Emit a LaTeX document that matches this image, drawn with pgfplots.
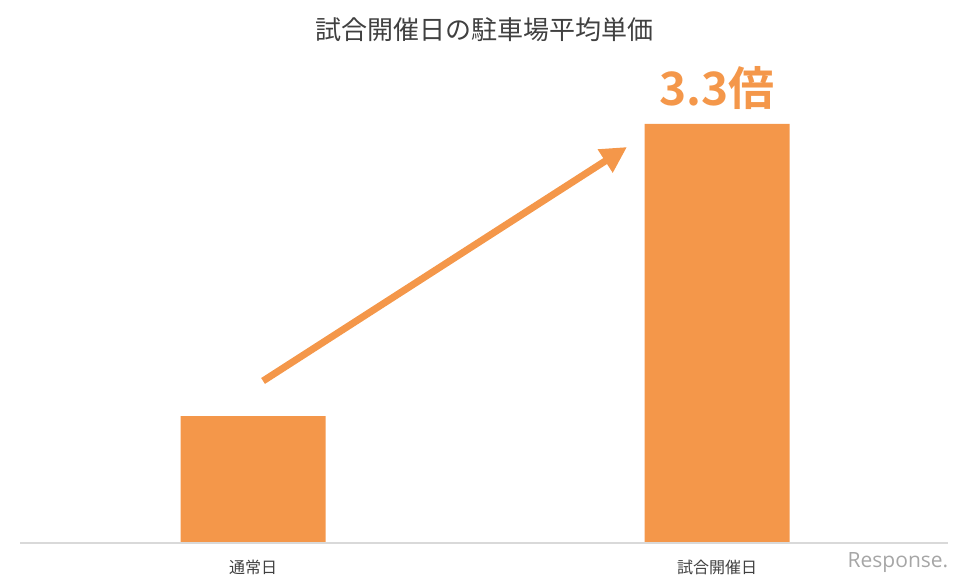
\documentclass[border=0pt]{standalone}
\usepackage{fontspec}
\setmainfont{Noto Sans CJK JP}[BoldFont={Noto Sans CJK JP Bold}]
\newfontfamily\latinfont{Open Sans}
\usepackage{pgfplots}
\pgfplotsset{compat=1.18}
\usetikzlibrary{arrows.meta}
\definecolor{barorange}{HTML}{F4974A}
\definecolor{titlegray}{HTML}{404040}
\begin{document}
\begin{tikzpicture}
\begin{axis}[
  name=main,
  scale only axis,
  width=968pt, height=585pt,
  xmin=-0.5453, xmax=1.5409,
  ymin=-0.3307, ymax=4.2756,
  axis line style={draw=none},
  tick style={draw=none},
  ytick=\empty,
  xtick={0,1},
  xticklabels={通常日,試合開催日},
  xticklabel style={anchor=center, yshift=22pt, font=\fontsize{16}{18}\selectfont, text=titlegray},
  ybar, bar width=145pt,
  clip=false,
]
\addplot[fill=barorange, draw=none] coordinates {(0,1) (1,3.3)};
\addplot[sharp plot, draw=gray!30, line width=1.5pt, forget plot] coordinates {(-0.502,0) (1.498,0)};
\addplot[sharp plot, draw=barorange, line width=7pt, -{Triangle[length=26pt,width=26pt]}, forget plot] coordinates {(0.0216,1.276) (0.806,3.118)};
\node[text=barorange, font=\fontsize{46}{50}\selectfont\bfseries] at (axis cs:1,3.583) {3.3倍};
\node[text=titlegray, font=\fontsize{26}{29}\selectfont] at (rel axis cs:0.5,0.9487) {試合開催日の駐車場平均単価};
\node[text=gray!70, font=\latinfont\fontsize{21}{24}\selectfont] at (axis cs:1.39,-0.15) {Response.};
\end{axis}
\pgfresetboundingbox
\useasboundingbox (main.south west) rectangle (main.north east);
\end{tikzpicture}
\end{document}
